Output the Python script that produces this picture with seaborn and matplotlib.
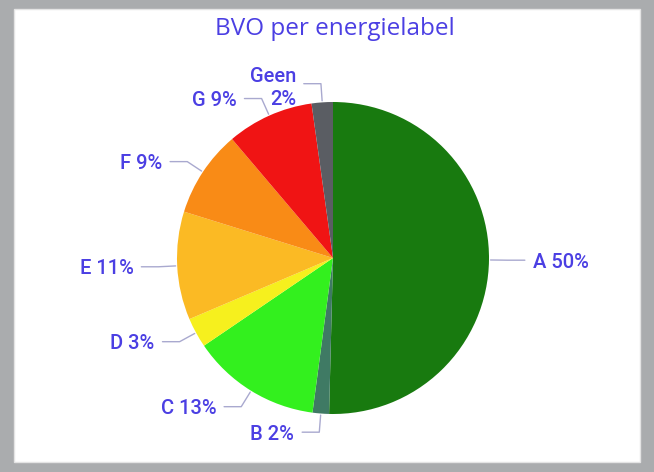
import numpy as np
import matplotlib
matplotlib.use("Agg")
import matplotlib.pyplot as plt
from matplotlib.patches import Rectangle
import seaborn as sns

# --- data ---
labels = ['A', 'B', 'C', 'D', 'E', 'F', 'G', 'Geen']
shares = [50.4, 1.7, 13.4, 3.1, 11.2, 9.0, 9.0, 2.2]
colors = ['#187a0f', '#3f7a64', '#33f01e', '#f6f01e', '#fbba24', '#f98b16', '#f01414', '#5a5d63']

sns.set_theme(style='white')
plt.rcParams['font.family'] = ['Roboto', 'DejaVu Sans']

text_col = '#4b3fe3'
line_col = '#a9a9cf'

fig = plt.figure(figsize=(6.54, 4.72), dpi=100, facecolor='#aaacae')
W, H = 654, 472
# white report panel (behind the axes)
fig.add_artist(Rectangle((14 / W, 10 / H), 626 / W, 453 / H,
                         transform=fig.transFigure, facecolor='white',
                         edgecolor='#e4e4e4', lw=1, zorder=-10))

# axes covers the panel, 156 px per data unit, pie centre at (333, 258) px
ax = fig.add_axes([14 / W, 10 / H, 626 / W, 452 / H])
ax.set_facecolor('none')
ax.set_zorder(5)
wedges, _ = ax.pie(shares, colors=colors, startangle=90, counterclock=False,
                   wedgeprops=dict(linewidth=0))
ax.set_xlim(-(333 - 14) / 156, (640 - 333) / 156)
ax.set_ylim(-(462 - 258) / 156, (258 - 10) / 156)
ax.set_aspect('auto')
ax.axis('off')

# data labels with leader lines
for w, lab, s in zip(wedges, labels, shares):
    ang = np.deg2rad((w.theta1 + w.theta2) / 2)
    x0, y0 = np.cos(ang), np.sin(ang)
    x1, y1 = 1.12 * x0, 1.12 * y0
    side = 1 if x0 > 0 else -1
    x2 = x1 + side * 0.11
    ax.plot([x0 * 1.01, x1, x2], [y0 * 1.01, y1, y1], color=line_col, lw=1)
    txt = f"{lab} {round(s):.0f}%"
    if lab == 'Geen':
        txt = f"{lab}\n{round(s):.0f}%"
    ax.text(x2 + side * 0.05, y1, txt, ha='left' if side > 0 else 'right',
            va='center_baseline', color=text_col, fontsize=14.5, fontweight='medium',
            multialignment='right', linespacing=1.3)

fig.text(335 / W, 1 - 29 / H, 'BVO per energielabel', ha='center', va='center',
         color=text_col, fontsize=17.5, family=['Open Sans', 'DejaVu Sans'])

fig.savefig('out.png', dpi=100, facecolor=fig.get_facecolor())
